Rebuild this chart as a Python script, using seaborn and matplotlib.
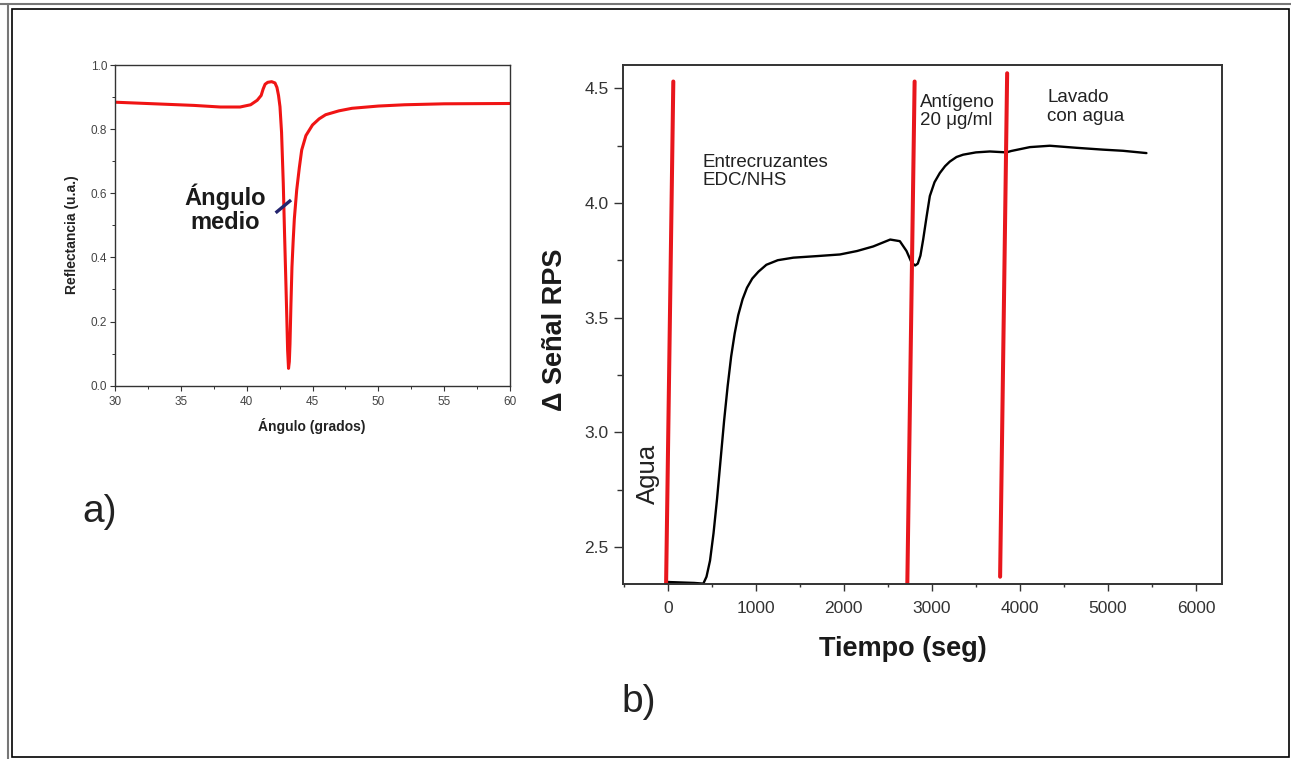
import matplotlib
matplotlib.use("Agg")
import matplotlib.pyplot as plt
from matplotlib.ticker import MultipleLocator
from matplotlib.patches import Rectangle
from matplotlib.lines import Line2D
import seaborn as sns

# a) reflectance vs angle (SPR curve)
angle_deg = [30, 33, 36, 38, 39.5, 40.3, 40.8, 41.1, 41.25, 41.4, 41.6, 41.9, 42.15,
             42.3, 42.42, 42.53, 42.65, 42.78, 42.88, 42.98, 43.05, 43.11, 43.18,
             43.24, 43.29, 43.36, 43.44, 43.53, 43.62, 43.8, 44.0, 44.18, 44.5, 45.0,
             45.5, 46, 47, 48, 50, 52, 55, 60]
reflectance = [0.884, 0.879, 0.874, 0.869, 0.869, 0.876, 0.89, 0.905, 0.925, 0.940,
               0.946, 0.948, 0.944, 0.93, 0.905, 0.87, 0.79, 0.631, 0.47, 0.319,
               0.21, 0.111, 0.054, 0.075, 0.13, 0.25, 0.37, 0.45, 0.52, 0.61, 0.68,
               0.735, 0.78, 0.813, 0.832, 0.845, 0.857, 0.865, 0.872, 0.876, 0.879,
               0.880]

# short mark for "angulo medio"
mid_mark_x = [42.2, 43.37]
mid_mark_y = [0.539, 0.579]

# b) sensorgram
time_s = [0, 150, 300, 404, 440, 480, 520, 560, 600, 640, 680, 720, 760, 800, 850,
          900, 960, 1030, 1120, 1250, 1426, 1700, 1956, 2150, 2334, 2527, 2636,
          2712, 2769, 2810, 2840, 2870, 2901, 2940, 2977, 3030, 3090, 3150, 3204,
          3280, 3355, 3500, 3658, 3848, 3900, 4113, 4340, 4643, 4943, 5170, 5437]
rps_signal = [2.347, 2.345, 2.343, 2.340, 2.37, 2.44, 2.56, 2.71, 2.88, 3.05, 3.20,
              3.33, 3.43, 3.51, 3.58, 3.63, 3.67, 3.70, 3.73, 3.75, 3.761, 3.768,
              3.775, 3.79, 3.81, 3.84, 3.833, 3.79, 3.74, 3.727, 3.735, 3.77, 3.84,
              3.94, 4.03, 4.09, 4.13, 4.16, 4.18, 4.20, 4.21, 4.22, 4.224, 4.22,
              4.226, 4.243, 4.249, 4.24, 4.232, 4.227, 4.217]

# hand drawn red marks (start / end of each line)
mark_t = [[-19, 63], [2721, 2804], [3775, 3855]]
mark_s = [[2.337, 4.529], [2.337, 4.529], [2.37, 4.565]]

step_labels = ["Entrecruzantes\nEDC/NHS", "Antígeno\n20 μg/ml", "Lavado\ncon agua"]

sns.set_theme(style="ticks")
plt.rcParams["font.family"] = ["Liberation Sans", "DejaVu Sans"]

W, H = 1291, 759
fig = plt.figure(figsize=(W / 100, H / 100), dpi=100)
fig.patch.set_facecolor("white")

red = "#e8161c"
spine_col = "#333333"

# ---- panel a)
ax1 = fig.add_axes([115 / W, 1 - 385.7 / H, 395 / W, 320.7 / H])
sns.lineplot(x=angle_deg, y=reflectance, ax=ax1, color="#f01414", linewidth=2.2,
             estimator=None)
ax1.plot(mid_mark_x, mid_mark_y, color="#24246e", linewidth=2.4, solid_capstyle="butt")
ax1.set_xlim(30, 60)
ax1.set_ylim(0, 1.0)
ax1.xaxis.set_major_locator(MultipleLocator(5))
ax1.xaxis.set_minor_locator(MultipleLocator(2.5))
ax1.yaxis.set_major_locator(MultipleLocator(0.2))
ax1.yaxis.set_minor_locator(MultipleLocator(0.1))
ax1.tick_params(which="major", length=3.5, width=0.8, colors=spine_col, labelsize=8.5,
                labelcolor="#444444")
ax1.tick_params(which="minor", length=2.2, width=0.7, colors=spine_col)
ax1.tick_params(axis="y", pad=2.2)
ax1.tick_params(axis="x", pad=4)
for sp in ax1.spines.values():
    sp.set_color(spine_col)
    sp.set_linewidth(1.0)
ax1.set_xlabel("Ángulo (grados)", fontsize=10, fontweight="bold", color="#222222")
ax1.set_ylabel("Reflectancia (u.a.)", fontsize=10, fontweight="bold", color="#222222")
ax1.xaxis.set_label_coords(0.498, -0.10)
ax1.yaxis.set_label_coords(-0.092, 0.47)
ax1.text(38.4, 0.551, "Ángulo\nmedio", ha="center", va="center", fontsize=17,
         fontweight="bold", color="#1a1a1a", linespacing=1.05)

# ---- panel b)
ax2 = fig.add_axes([623.3 / W, 1 - 584.3 / H, 598.4 / W, 519.3 / H])
sns.lineplot(x=time_s, y=rps_signal, ax=ax2, color="black", linewidth=1.7,
             estimator=None)
for tt, ss in zip(mark_t, mark_s):
    sns.lineplot(x=tt, y=ss, ax=ax2, color=red, linewidth=2.9, sort=False,
                 estimator=None)
ax2.set_xlim(-505, 6292)
ax2.set_ylim(2.337, 4.601)
ax2.xaxis.set_major_locator(MultipleLocator(1000))
ax2.xaxis.set_minor_locator(MultipleLocator(500))
ax2.yaxis.set_major_locator(MultipleLocator(0.5))
ax2.yaxis.set_minor_locator(MultipleLocator(0.25))
ax2.tick_params(which="both", width=1.0, colors=spine_col, labelsize=12.5,
                labelcolor="#333333")
ax2.tick_params(axis="y", which="major", length=6.5, pad=4)
ax2.tick_params(axis="y", which="minor", length=4)
ax2.tick_params(axis="x", which="major", length=5, pad=7)
ax2.tick_params(axis="x", which="minor", length=2.5)
for sp in ax2.spines.values():
    sp.set_color(spine_col)
    sp.set_linewidth(1.4)
ax2.set_xlabel("Tiempo (seg)", fontsize=19.5, fontweight="bold", color="#1a1a1a")
ax2.set_ylabel("Δ Señal RPS", fontsize=19.5, fontweight="bold", color="#1a1a1a")
ax2.xaxis.set_label_coords(0.467, -0.10)
ax2.yaxis.set_label_coords(-0.092, 0.49)

ax2.text(393, 4.137, step_labels[0], ha="left", va="center", fontsize=13.5,
         color="#222222", linespacing=1.1)
ax2.text(2864, 4.397, step_labels[1], ha="left", va="center", fontsize=13.5,
         color="#222222", linespacing=1.1)
ax2.text(4313, 4.418, step_labels[2], ha="left", va="center", fontsize=13.5,
         color="#222222", linespacing=1.1)
ax2.text(-220, 2.819, "Agua", rotation=90, ha="center", va="center", fontsize=18.5,
         color="#222222")

# panel letters
fig.text(82 / W, 1 - 511.7 / H, "a)", ha="left", va="center", fontsize=28,
         color="#222222")
fig.text(621.7 / W, 1 - 701.7 / H, "b)", ha="left", va="center", fontsize=28,
         color="#222222")

# page frame
fig.add_artist(Rectangle((11.7 / W, 1 - 756.7 / H), (1289.3 - 11.7) / W,
                         (756.7 - 9.3) / H, transform=fig.transFigure, fill=False,
                         edgecolor="black", linewidth=1.2))
fig.add_artist(Line2D([0, 1], [1 - 4 / H, 1 - 4 / H], transform=fig.transFigure,
                      color="#777777", linewidth=1.5))
fig.add_artist(Line2D([8 / W, 8 / W], [0, 1 - 4 / H], transform=fig.transFigure,
                      color="#777777", linewidth=1.5))

fig.savefig("out.png", dpi=100, facecolor="white")
